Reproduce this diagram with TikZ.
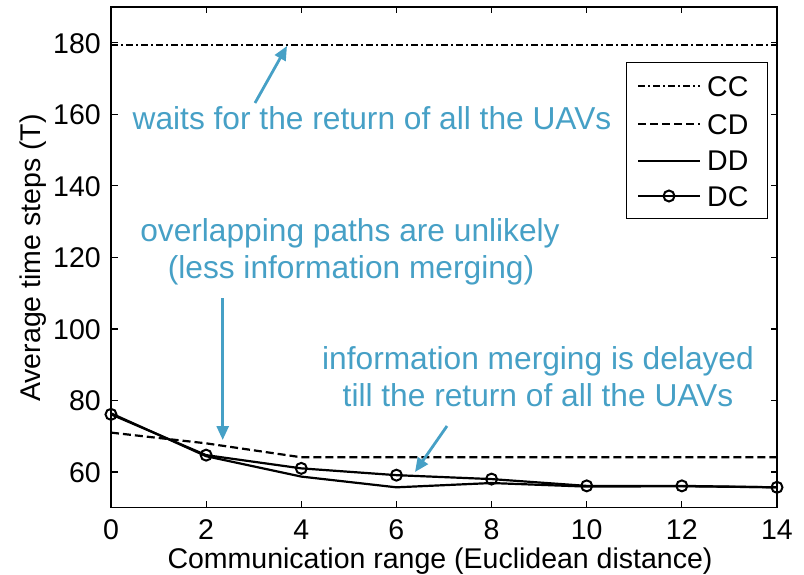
\documentclass[tikz,border=0pt]{standalone}
\usepackage{fontspec}
\setmainfont{Liberation Sans}
\usetikzlibrary{arrows.meta}
\definecolor{annot}{RGB}{70,160,198}
\begin{document}
\begin{tikzpicture}[x=1pt,y=-1pt,
  axisfont/.style={font=\fontsize{28.5}{30}\selectfont, inner sep=0pt},
  annfont/.style={font=\fontsize{31.7}{37}\selectfont, text=annot, inner sep=0pt},
  ann/.style={draw=annot, line width=2.8pt, -{Triangle[length=14pt,width=12pt]}},
  dataline/.style={line width=2.2pt, line join=round},
  ccstyle/.style={dataline, dash pattern=on 7pt off 3pt on 2pt off 3pt},
  cdstyle/.style={dataline, dash pattern=on 8pt off 4pt},
  dcmark/.style={circle, draw, line width=2pt, minimum size=11pt, inner sep=0pt},
  tickline/.style={line width=1.2pt},
]
\useasboundingbox (0,0) rectangle (804,575);

% axis box
\draw[line width=1.4pt] (111,7) rectangle (777,507.7);

% x ticks and labels
\foreach \v [count=\i] in {0,2,...,14} {
  \pgfmathsetmacro{\px}{111+\v*47.57}
  \draw[tickline] (\px,507.7) -- ++(0,-6.5);
  \draw[tickline] (\px,7) -- ++(0,6.5);
  \node[axisfont, anchor=base] (xl\i) at (\px,539) {\v};
}
% y ticks and labels
\foreach \v [count=\i] in {60,80,...,180} {
  \pgfmathsetmacro{\py}{507.7-(\v-50)*3.576}
  \draw[tickline] (111,\py) -- ++(6.5,0);
  \draw[tickline] (777,\py) -- ++(-6.5,0);
  \node[axisfont, anchor=base east] (yl\i) at (101,\py+10.2) {\v};
}

% axis labels
\node[axisfont, anchor=base] (xlabel) at (440,568) {Communication range (Euclidean distance)};
\node[axisfont, anchor=base, rotate=90] (ylabel) at (40,258) {Average time steps (T)};

% data
\begin{scope}[shift={(111,507.7)}, x=47.57pt, y=3.576pt]
  \draw[ccstyle] (0,129.3) -- (14,129.3);
  \draw[cdstyle] (0,21.0) -- (2,18.0) -- (4,14.1) -- (14,14.1);
  \draw[dataline] (0,26.4) -- (2,14.4) -- (4,8.7) -- (6,5.7) -- (8,6.9) -- (10,5.9) -- (12,6.0) -- (14,5.7);
  \draw[dataline] (0,26.1) -- (2,14.7) -- (4,11.0) -- (6,9.1) -- (8,8.0) -- (10,6.1) -- (12,6.1) -- (14,5.7);
  \foreach \xx/\yy [count=\i] in {0/26.1,2/14.7,4/11.0,6/9.1,8/8.0,10/6.1,12/6.1,14/5.7}
    \node[dcmark] (m\i) at (\xx,\yy) {};
\end{scope}

% legend
\node[draw, fill=white, line width=1.2pt, minimum width=141pt, minimum height=156pt, inner sep=0pt, anchor=north west] (legend) at (626,62.3) {};
\coordinate (l1a) at (638,86);    \coordinate (l1b) at (700,86);
\coordinate (l2a) at (638,124);   \coordinate (l2b) at (700,124);
\coordinate (l3a) at (638,160.7); \coordinate (l3b) at (700,160.7);
\coordinate (l4a) at (638,196);   \coordinate (l4b) at (700,196);
\draw[ccstyle] (l1a) -- (l1b);
\draw[cdstyle] (l2a) -- (l2b);
\draw[dataline] (l3a) -- (l3b);
\draw[dataline] (l4a) -- (l4b);
\node[dcmark] (lm) at (669,196) {};
\node[axisfont, anchor=base west] (t1) at (707,96.2) {CC};
\node[axisfont, anchor=base west] (t2) at (707,134.2) {CD};
\node[axisfont, anchor=base west] (t3) at (707,170.9) {DD};
\node[axisfont, anchor=base west] (t4) at (707,206.2) {DC};

% annotations
\node[annfont, anchor=base] (w1) at (372,130) {waits for the return of all the UAVs};
\node[annfont, anchor=base] (o1) at (350,241) {overlapping paths are unlikely};
\node[annfont, anchor=base] (o2) at (351,278) {(less information merging)};
\node[annfont, anchor=base] (i1) at (538,369) {information merging is delayed};
\node[annfont, anchor=base] (i2) at (538,406) {till the return of all the UAVs};

\coordinate (a1s) at (255,103);   \coordinate (a1e) at (287,46);
\coordinate (a2s) at (222.7,298); \coordinate (a2e) at (222.7,440);
\coordinate (a3s) at (447,426);   \coordinate (a3e) at (415,472);
\draw[ann] (a1s) -- (a1e);
\draw[ann] (a2s) -- (a2e);
\draw[ann] (a3s) -- (a3e);
\end{tikzpicture}
\end{document}
